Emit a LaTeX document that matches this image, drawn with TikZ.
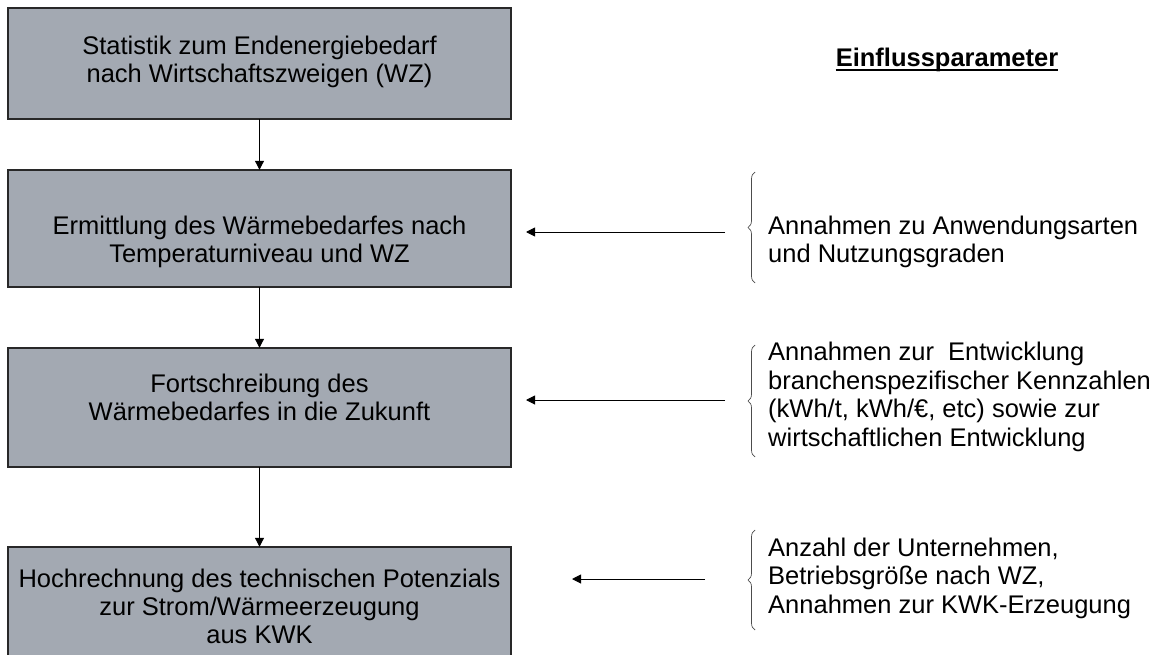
\documentclass[tikz,border=0pt]{standalone}
\usepackage{fontspec}
\setmainfont{Liberation Sans}
\usetikzlibrary{arrows.meta,decorations.pathreplacing}
\definecolor{boxgray}{RGB}{163,169,178}
\definecolor{edgegray}{RGB}{40,40,40}
\tikzset{
  stepbox/.style={draw=edgegray, line width=1.3pt, fill=boxgray},
  boxtext/.style={align=center, font=\fontsize{25.5}{28}\selectfont, inner sep=0pt},
  paramtext/.style={align=left, anchor=west, font=\fontsize{25.5}{28.5}\selectfont, inner sep=0pt},
  flow/.style={-{Triangle[length=9pt,width=9pt]}, line width=1pt},
  bracestyle/.style={decorate, decoration={brace, amplitude=7pt}, line width=0.7pt, draw=black!70}
}
\begin{document}
\begin{tikzpicture}[x=1pt,y=-1pt]
\useasboundingbox (0,0) rectangle (1161,655);
\clip (0,0) rectangle (1161,655);
% boxes
\draw[stepbox] (8,8) rectangle (511,119);
\draw[stepbox] (8,170) rectangle (511,287);
\draw[stepbox] (8,348) rectangle (511,467);
\draw[stepbox] (8,547) rectangle (511,670);
\node[minimum width=503pt, minimum height=111pt, inner sep=0pt] (b1) at (259.5,63.5) {};
\node[minimum width=503pt, minimum height=117pt, inner sep=0pt] (b2) at (259.5,228.5) {};
\node[minimum width=503pt, minimum height=119pt, inner sep=0pt] (b3) at (259.5,407.5) {};
\node[minimum width=503pt, minimum height=123pt, inner sep=0pt] (b4) at (259.5,608.5) {};
\node[boxtext] (t1) at (259.5,62) {Statistik zum Endenergiebedarf\\nach Wirtschaftszweigen (WZ)};
\node[boxtext] (t2) at (259.5,242) {Ermittlung des Wärmebedarfes nach\\Temperaturniveau und WZ};
\node[boxtext] (t3) at (259.5,397) {Fortschreibung des\\Wärmebedarfes in die Zukunft};
\node[boxtext] (t4) at (259.5,606) {Hochrechnung des technischen Potenzials\\zur Strom/Wärmeerzeugung\\aus KWK};
% vertical arrows
\draw[flow] (b1.south) -- (b2.north);
\draw[flow] (b2.south) -- (b3.north);
\draw[flow] (b3.south) -- (b4.north);
% title
\node[font=\bfseries\fontsize{25.5}{28}\selectfont, inner sep=0pt] (title) at (947,60) {Einflussparameter};
\draw[line width=1.8pt] ([yshift=-3.5pt]title.base west) -- ([yshift=-3.5pt]title.base east);
% parameters
\node[paramtext] (p2) at (768,242) {Annahmen zu Anwendungsarten\\und Nutzungsgraden};
\node[paramtext] (p3) at (768,397) {Annahmen zur\ \ Entwicklung\\branchenspezifischer Kennzahlen\\(kWh/t, kWh/€, etc) sowie zur\\wirtschaftlichen Entwicklung};
\node[paramtext] (p4) at (768,578) {Anzahl der Unternehmen,\\Betriebsgröße nach WZ,\\Annahmen zur KWK-Erzeugung};
% braces
\coordinate (br2b) at (755,283); \coordinate (br2t) at (755,172);
\coordinate (br3b) at (755,457); \coordinate (br3t) at (755,345);
\coordinate (br4b) at (755,630); \coordinate (br4t) at (755,530);
\draw[bracestyle] (br2b) -- (br2t);
\draw[bracestyle] (br3b) -- (br3t);
\draw[bracestyle] (br4b) -- (br4t);
% horizontal arrows
\coordinate (a2s) at (725,232); \coordinate (a2e) at (526,232);
\coordinate (a3s) at (725,400); \coordinate (a3e) at (526,400);
\coordinate (a4s) at (705,579); \coordinate (a4e) at (572,579);
\draw[flow] (a2s) -- (a2e);
\draw[flow] (a3s) -- (a3e);
\draw[flow] (a4s) -- (a4e);
\end{tikzpicture}
\end{document}
